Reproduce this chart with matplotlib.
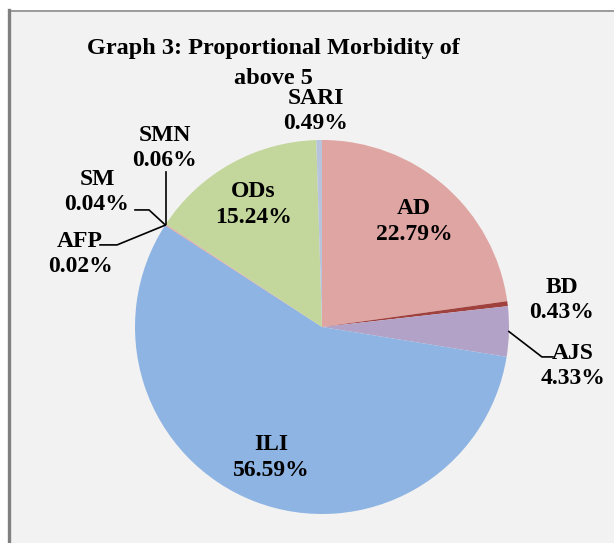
import matplotlib.pyplot as plt
from matplotlib.lines import Line2D
from matplotlib.patches import Rectangle
import numpy as np

# data
labels = ['AD', 'BD', 'AJS', 'ILI', 'AFP', 'SM', 'SMN', 'ODs', 'SARI']
values = [22.79, 0.43, 4.33, 56.59, 0.02, 0.04, 0.06, 15.24, 0.49]
colors = ['#dfa5a3', '#a0413e', '#b3a2c7', '#8eb4e3', '#d99694',
          '#d99694', '#d99694', '#c3d69b', '#b7c4dc']
title = 'Graph 3: Proportional Morbidity of\nabove 5'

# layout of the labels (data units, pie radius = 1)
inside = ['AD', 'ODs', 'ILI']
outside_pos = {'SARI': (-0.032, 1.155), 'BD': (1.283, 0.144), 'AJS': (1.342, -0.209),
               'SMN': (-0.840, 0.957), 'SM': (-1.203, 0.722), 'AFP': (-1.294, 0.390)}
leaders = {'SMN': [(None, 0.83)],
           'SM': [(-0.925, 0.626), (-1.0, 0.626)],
           'AFP': [(-1.096, 0.439), (-1.187, 0.439)],
           'AJS': [(1.176, -0.160), (1.235, -0.160)]}

plt.rcParams['font.family'] = ['Liberation Serif', 'DejaVu Serif']

W, H = 614, 543
fig = plt.figure(figsize=(W / 100, H / 100), dpi=100, facecolor='white')
# grey chart area + border (behind the axes)
fig.patches.append(Rectangle((10 / W, 0), 1, (H - 10) / H, transform=fig.transFigure,
                             facecolor='#f2f2f2', edgecolor='none', zorder=-5))
fig.lines.append(Line2D([9 / W, 1], [1 - 10.5 / H, 1 - 10.5 / H], transform=fig.transFigure,
                        color='#8c8c8c', lw=1.2, zorder=-4))
fig.lines.append(Line2D([9 / W, 9 / W], [0, 1 - 10 / H], transform=fig.transFigure,
                        color='#808080', lw=2.4, zorder=-4))

ax = fig.add_axes([0, 0, 1, 1])
ax.patch.set_visible(False)
R, cx, cy = 187, 322, 327
wedges, _ = ax.pie(values, colors=colors, startangle=90, counterclock=False,
                   radius=1, wedgeprops=dict(linewidth=0))
ax.set_xlim(-cx / R, (W - cx) / R)
ax.set_ylim(-(H - cy) / R, cy / R)
ax.set_aspect('equal')
ax.set_axis_off()

fs = 17
for w, name, v in zip(wedges, labels, values):
    mid = np.deg2rad((w.theta1 + w.theta2) / 2)
    txt = '%s\n%.2f%%' % (name, v)
    if name in inside:
        r = 0.75
        ax.text(r * np.cos(mid), r * np.sin(mid), txt, ha='center', va='center',
                fontsize=fs, fontweight='bold', linespacing=1.3)
    else:
        x, y = outside_pos[name]
        ax.text(x, y, txt, ha='center', va='center', fontsize=fs, fontweight='bold',
                linespacing=1.3)
    if name in leaders:
        ex, ey = np.cos(mid), np.sin(mid)
        xs, ys = [ex], [ey]
        for px, py in leaders[name]:
            xs.append(ex if px is None else px)
            ys.append(py)
        ax.plot(xs, ys, color='black', lw=1.2)

fig.text(273 / W, 1 - 38 / H, title, ha='center', va='top', fontsize=17.5,
         fontweight='bold', linespacing=1.55)

fig.savefig('out.png', dpi=100, facecolor=fig.get_facecolor())
